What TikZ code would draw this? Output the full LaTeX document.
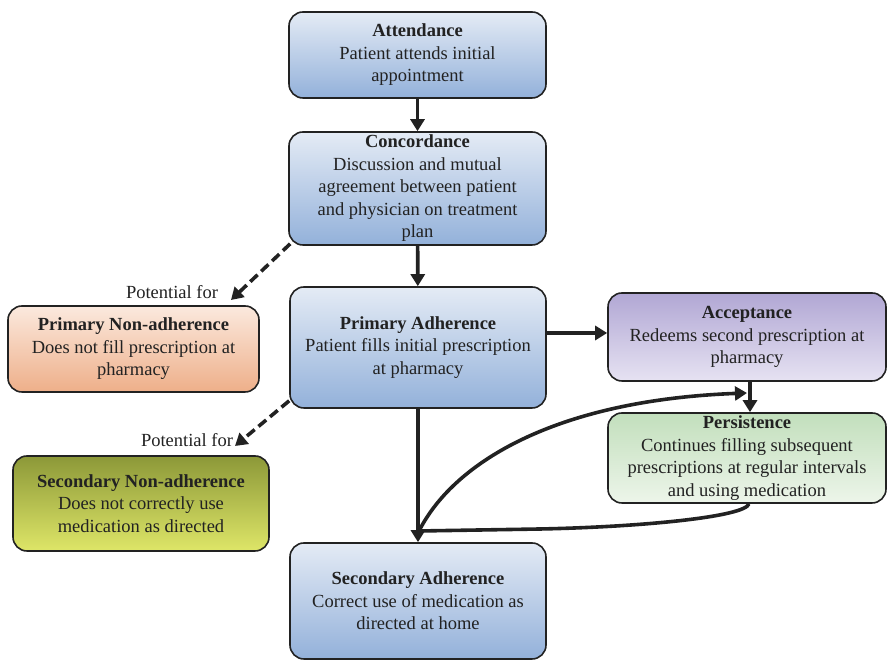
\documentclass[tikz,border=0pt]{standalone}
\usepackage{fontspec}
\setmainfont{Liberation Serif}
\usetikzlibrary{arrows.meta,calc}
\definecolor{bluetop}{HTML}{E4EBF5}
\definecolor{bluebot}{HTML}{93B1DA}
\definecolor{peachtop}{HTML}{FBE9DE}
\definecolor{peachbot}{HTML}{EEAF89}
\definecolor{olivetop}{HTML}{8C9838}
\definecolor{olivebot}{HTML}{DEE668}
\definecolor{lavtop}{HTML}{B1A7D4}
\definecolor{lavbot}{HTML}{E6E2F2}
\definecolor{greentop}{HTML}{C2DFBC}
\definecolor{greenbot}{HTML}{EDF5EA}
\definecolor{ink}{HTML}{222222}
\tikzset{
  box/.style={draw=ink, line width=1.6pt, rounded corners=14pt, align=center,
    inner sep=0pt, text=ink,
    font=\fontsize{18.5}{22.5}\selectfont},
  bluebox/.style={box, top color=bluetop, bottom color=bluebot},
  arr/.style={draw=ink, line width=3.6pt, -{Triangle[length=12pt,width=14pt]}},
  dasharr/.style={arr, dash pattern=on 10pt off 5pt},
  curv/.style={draw=ink, line width=3.6pt},
  lbl/.style={text=ink, inner sep=0pt, font=\fontsize{18.5}{22.5}\selectfont}
}
\begin{document}
\begin{tikzpicture}[x=1pt,y=1pt]
\useasboundingbox (0,0) rectangle (887,660);
\node[bluebox, minimum width=257pt, minimum height=86pt] (att) at (417.5,605)
  {\textbf{Attendance}\\Patient attends initial\\appointment};
\node[bluebox, minimum width=257pt, minimum height=113pt] (conc) at (417.5,471.5)
  {\textbf{Concordance}\\Discussion and mutual\\agreement between patient\\and physician on treatment\\plan};
\node[bluebox, minimum width=256pt, minimum height=121pt] (pa) at (418,312.5)
  {\textbf{Primary Adherence}\\Patient fills initial prescription\\at pharmacy};
\node[box, top color=peachtop, bottom color=peachbot, minimum width=251pt, minimum height=86pt] (pna) at (133.5,311)
  {\textbf{Primary Non-adherence}\\Does not fill prescription at\\pharmacy};
\node[box, top color=lavtop, bottom color=lavbot, minimum width=278pt, minimum height=88pt] (acc) at (747,323)
  {\textbf{Acceptance}\\Redeems second prescription at\\pharmacy};
\node[box, top color=greentop, bottom color=greenbot, minimum width=278pt, minimum height=90pt] (pers) at (747,202)
  {\textbf{Persistence}\\Continues filling subsequent\\prescriptions at regular intervals\\and using medication};
\node[box, top color=olivetop, bottom color=olivebot, minimum width=256pt, minimum height=95pt] (sna) at (141,156.5)
  {\textbf{Secondary Non-adherence}\\Does not correctly use\\medication as directed};
\node[bluebox, minimum width=256pt, minimum height=116pt] (sa) at (418,59)
  {\textbf{Secondary Adherence}\\Correct use of medication as\\directed at home};

\node[lbl] (pf1) at (172,368) {Potential for};
\node[lbl] (pf2) at (187,220) {Potential for};

\coordinate (d1) at (231,360);
\coordinate (d2) at (235,214);
\coordinate (join) at (419,129);
\coordinate (loopend) at (747,267);

\draw[arr] (att) -- (conc);
\draw[arr] (conc) -- (pa);
\draw[dasharr] ([shift={(2pt,2pt)}]conc.south west) -- (d1);
\draw[dasharr] ([yshift=8pt]pa.south west) -- (d2);
\path ([yshift=4pt]acc.west) coordinate (accin);
\draw[arr] (pa.east |- accin) -- (accin);
\draw[arr] ([xshift=3pt]acc.south) -- ([xshift=3pt]pers.south |- pers.north);
\draw[arr] (pa) -- (sa);
\draw[curv] ([xshift=2pt]pers.south) .. controls (745,143) and (640,133) .. (540,131) -- (join);
\draw[arr] (join) .. controls (455,200) and (560,260) .. (loopend);
\end{tikzpicture}
\end{document}
